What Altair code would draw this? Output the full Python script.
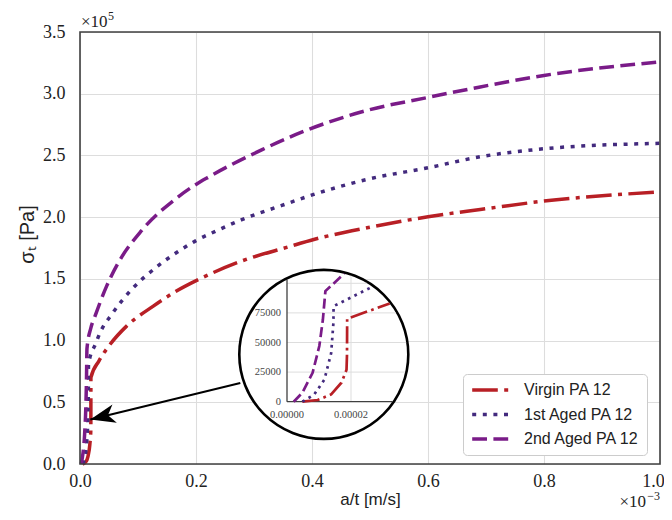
import math
import altair as alt
import pandas as pd

# ---------------- data (a/t in m/s, sigma_t in Pa) ----------------
series_names = ["Virgin PA 12", "1st Aged PA 12", "2nd Aged PA 12"]
series_colors = ["#B81F25", "#432A7E", "#7A1B88"]

virgin_x = [0.48e-5, 0.96e-5, 1.38e-5, 1.70e-5, 1.86e-5, 1.875e-5, 1.88e-5, 3.28e-5, 5.17e-5,
            8.03e-5, 1.264e-4, 1.64e-4, 2.045e-4, 2.79e-4, 3.6e-4, 4.03e-4, 4.95e-4, 6.0e-4,
            6.9e-4, 8.0e-4, 1.0e-3]
virgin_y = [0, 1400, 6200, 16000, 27000, 40000, 70100, 83600, 96800,
            111700, 127900, 139500, 149500, 164500, 176000, 181900, 191400, 200300,
            206200, 213000, 220500]

aged1_x = [0.48e-5, 0.85e-5, 1.17e-5, 1.38e-5, 1.45e-5, 1.456e-5, 2.706e-5, 3.45e-5, 5.45e-5,
           8.9e-5, 1.29e-4, 1.64e-4, 2.0e-4, 2.333e-4, 2.79e-4, 3.48e-4, 3.94e-4, 4.95e-4,
           6.0e-4, 6.9e-4, 8.0e-4, 1.0e-3]
aged1_y = [0, 6000, 18800, 41000, 66500, 80700, 97600, 106300, 121100,
           141400, 158500, 170500, 181000, 188500, 198000, 209500, 217000, 230600,
           240000, 248900, 255400, 259800]

aged2_x = [0.21e-5, 0.48e-5, 0.80e-5, 1.01e-5, 1.12e-5, 1.20e-5, 1.875e-5, 2.59e-5, 4.59e-5,
           6.6e-5, 1.06e-4, 1.64e-4, 2.0e-4, 2.217e-4, 3.15e-4, 3.8e-4, 4.95e-4, 6.0e-4,
           6.9e-4, 8.0e-4, 1.0e-3]
aged2_y = [0, 7600, 24400, 47000, 69000, 93400, 110300, 119800, 144100,
           163000, 189000, 214500, 226500, 232500, 254900, 268400, 286500, 297000,
           305500, 314800, 325800]

x_ticks = [0, 0.0002, 0.0004, 0.0006, 0.0008, 0.001]
y_ticks = [0, 50000, 100000, 150000, 200000, 250000, 300000, 350000]

inset_y_ticks = [0, 25000, 50000, 75000]
inset_y_labels = ["0", "25000", "50000", "75000"]
inset_y_grid = [25000, 50000, 75000, 100000]
inset_x_ticks = [0, 2e-5]
inset_x_labels = ["0.00000", "0.00002"]
inset_x_grid = [2e-5]

# arrow (main data units)
arrow_from = (2.764e-4, 65600)
arrow_to = (1.78e-5, 36000)

# ---------------- layout ----------------
W, H = 580, 432
MAIN_X = [0, 0.001]
MAIN_Y = [0, 350000]
# inset scales: data domain -> pixel range inside the plot area
INS_XD, INS_XR = [0, 5e-5], [207, 367]
INS_YD, INS_YR = [0, 100000], [369.7, 251.3]
CX, CY, R = 243.8, 322.4, 84.5  # magnifier circle (pixels)
RC = R - 1.3


def ipx(x):
    return INS_XR[0] + (x - INS_XD[0]) / (INS_XD[1] - INS_XD[0]) * (INS_XR[1] - INS_XR[0])


def ipy(y):
    return INS_YR[0] + (y - INS_YD[0]) / (INS_YD[1] - INS_YD[0]) * (INS_YR[1] - INS_YR[0])


def ix(px):
    return INS_XD[0] + (px - INS_XR[0]) / (INS_XR[1] - INS_XR[0]) * (INS_XD[1] - INS_XD[0])


def iy(py):
    return INS_YD[0] + (py - INS_YR[0]) / (INS_YR[1] - INS_YR[0]) * (INS_YD[1] - INS_YD[0])


def clip_polyline(xs, ys):
    pts = [(ipx(x), ipy(y)) for x, y in zip(xs, ys)]
    inside = lambda p: (p[0] - CX) ** 2 + (p[1] - CY) ** 2 <= RC * RC
    pieces, cur = [], []
    for i, p in enumerate(pts):
        if i == 0:
            if inside(p):
                cur = [p]
            continue
        q = pts[i - 1]
        dx, dy = p[0] - q[0], p[1] - q[1]
        fx, fy = q[0] - CX, q[1] - CY
        A = dx * dx + dy * dy
        B = 2 * (fx * dx + fy * dy)
        C = fx * fx + fy * fy - RC * RC
        disc = B * B - 4 * A * C
        ts = []
        if A > 0 and disc >= 0:
            s = math.sqrt(disc)
            ts = sorted(t for t in ((-B - s) / (2 * A), (-B + s) / (2 * A)) if 0 < t < 1)
        a_in, b_in = inside(q), inside(p)
        if a_in and b_in:
            cur.append(p)
        elif a_in:
            t = ts[-1] if ts else 1
            cur.append((q[0] + t * dx, q[1] + t * dy))
            pieces.append(cur)
            cur = []
        elif b_in:
            t = ts[0] if ts else 0
            cur = [(q[0] + t * dx, q[1] + t * dy), p]
        elif len(ts) == 2:
            pieces.append([(q[0] + ts[0] * dx, q[1] + ts[0] * dy), (q[0] + ts[1] * dx, q[1] + ts[1] * dy)])
    if len(cur) > 1:
        pieces.append(cur)
    return pieces


all_series = [(virgin_x, virgin_y), (aged1_x, aged1_y), (aged2_x, aged2_y)]

rows = []
for name, (xs, ys) in zip(series_names, all_series):
    for i, (x, y) in enumerate(zip(xs, ys)):
        rows.append({"x": x, "y": y, "series": name, "i": i})
main_df = pd.DataFrame(rows)

irows = []
for name, (xs, ys) in zip(series_names, all_series):
    for k, piece in enumerate(clip_polyline(xs, ys)):
        for j, (px, py) in enumerate(piece):
            irows.append({"x": ix(px), "y": iy(py), "series": name, "piece": f"{name}-{k}", "i": j})
inset_df = pd.DataFrame(irows)

# inset grid / spines clipped to the circle
grid_rows = []
for gv in inset_y_grid:
    py = ipy(gv)
    if abs(py - CY) < RC:
        right = CX + math.sqrt(RC ** 2 - (py - CY) ** 2)
        grid_rows.append({"x": 0, "y": gv, "x2": ix(right), "y2": gv})
for gv in inset_x_grid:
    px = ipx(gv)
    top = CY - math.sqrt(RC ** 2 - (px - CX) ** 2)
    grid_rows.append({"x": gv, "y": 0, "x2": gv, "y2": iy(top)})
grid_df = pd.DataFrame(grid_rows)

px0, py0 = ipx(0), ipy(0)
spine_df = pd.DataFrame([
    {"x": 0, "y": 0, "x2": 0, "y2": iy(CY - math.sqrt(RC ** 2 - (px0 - CX) ** 2))},
    {"x": 0, "y": 0, "x2": ix(CX + math.sqrt(RC ** 2 - (py0 - CY) ** 2)), "y2": 0},
])

dashes_main = [[25.6, 6.4, 4, 6.4], [4, 6.6], [14.8, 6.4]]
dashes_inset = [[17.3, 4.3, 2.7, 4.3], [2.7, 4.5], [10, 4.3]]

SERIF = "Liberation Serif"
SANS = "Liberation Sans"

mx = alt.Scale(domain=MAIN_X, nice=False, zero=False)
my = alt.Scale(domain=MAIN_Y, nice=False, zero=False)

legend = alt.Legend(
    title=None, orient="none", legendX=383, legendY=342,
    symbolType="stroke", symbolSize=1340, symbolStrokeWidth=3.5, clipHeight=18,
    labelFont=SANS, labelFontSize=16, labelColor="#222222", labelOffset=13,
    padding=7, rowPadding=6.5, fillColor="white", strokeColor="#cccccc", cornerRadius=4,
)

lines = alt.Chart(main_df).mark_line(strokeWidth=3.5, interpolate="monotone").encode(
    x=alt.X("x:Q", scale=mx, axis=alt.Axis(
        values=x_ticks, labelExpr="format(datum.value*1000, '.1f')", title="a/t [m/s]",
        labelFlush=False, labelPadding=8, titlePadding=1, titleFontSize=17,
        labelOffset={"condition": {"test": "datum.value >= 0.001", "value": -7}, "value": 0})),
    y=alt.Y("y:Q", scale=my, axis=alt.Axis(
        values=y_ticks, labelExpr="format(datum.value/100000, '.1f')", title="σₜ [Pa]",
        labelFlush=False, labelPadding=15, titlePadding=5, titleFontSize=20, titleY=202)),
    color=alt.Color("series:N", scale=alt.Scale(domain=series_names, range=series_colors),
                    sort=series_names, legend=legend),
    strokeDash=alt.StrokeDash("series:N", scale=alt.Scale(domain=series_names, range=dashes_main),
                              sort=series_names, legend=legend),
    order="i:Q",
)

frame = alt.Chart(pd.DataFrame({"x": [MAIN_X[0]], "x2": [MAIN_X[1]], "y": [MAIN_Y[0]], "y2": [MAIN_Y[1]]})).mark_rect(
    filled=False, stroke="#404040", strokeWidth=1.6
).encode(x=alt.X("x:Q", scale=mx), x2="x2:Q", y=alt.Y("y:Q", scale=my), y2="y2:Q")

arrow_line = alt.Chart(pd.DataFrame({"x": [arrow_from[0]], "y": [arrow_from[1]],
                                     "x2": [arrow_to[0]], "y2": [arrow_to[1]]})).mark_rule(
    color="black", strokeWidth=2).encode(x=alt.X("x:Q", scale=mx), y=alt.Y("y:Q", scale=my), x2="x2:Q", y2="y2:Q")

arrow_head = alt.Chart(pd.DataFrame({"x": [arrow_to[0]], "y": [arrow_to[1]]})).mark_point(
    shape="M0,0 L2,-0.75 L1.45,0 L2,0.75 Z", size=625, angle=346.5, filled=True,
    color="black", opacity=1).encode(x=alt.X("x:Q", scale=mx), y=alt.Y("y:Q", scale=my))

exp_top_base = alt.Chart(pd.DataFrame({"x": [MAIN_X[0]], "y": [MAIN_Y[1]], "t": ["×10"]})).mark_text(
    font=SERIF, fontSize=17, align="left", baseline="middle", dx=1, dy=-10, color="#222222"
).encode(x=alt.X("x:Q", scale=mx), y=alt.Y("y:Q", scale=my), text="t:N")
exp_top_sup = alt.Chart(pd.DataFrame({"x": [MAIN_X[0]], "y": [MAIN_Y[1]], "t": ["5"]})).mark_text(
    font=SERIF, fontSize=12, align="left", baseline="middle", dx=28, dy=-16, color="#222222"
).encode(x=alt.X("x:Q", scale=mx), y=alt.Y("y:Q", scale=my), text="t:N")
exp_bot_base = alt.Chart(pd.DataFrame({"x": [MAIN_X[1]], "y": [MAIN_Y[0]], "t": ["×10"]})).mark_text(
    font=SERIF, fontSize=17, align="right", baseline="middle", dx=-14, dy=38, color="#222222"
).encode(x=alt.X("x:Q", scale=mx), y=alt.Y("y:Q", scale=my), text="t:N")
exp_bot_sup = alt.Chart(pd.DataFrame({"x": [MAIN_X[1]], "y": [MAIN_Y[0]], "t": ["−3"]})).mark_text(
    font=SERIF, fontSize=12, align="right", baseline="middle", dx=0, dy=32, color="#222222"
).encode(x=alt.X("x:Q", scale=mx), y=alt.Y("y:Q", scale=my), text="t:N")

main = alt.layer(lines, frame, arrow_line, arrow_head, exp_top_base, exp_top_sup, exp_bot_base, exp_bot_sup)

# ---------------- inset ----------------
ixs = alt.Scale(domain=INS_XD, range=INS_XR, nice=False, zero=False)
iys = alt.Scale(domain=INS_YD, range=INS_YR, nice=False, zero=False)
IX = lambda f="x:Q": alt.X(f, scale=ixs, axis=None)
IY = lambda f="y:Q": alt.Y(f, scale=iys, axis=None)

circle = alt.Chart(pd.DataFrame({"x": [ix(CX)], "y": [iy(CY)]})).mark_point(
    shape="circle", size=(2 * R) ** 2, filled=True, fill="white", stroke="black",
    strokeWidth=2.6, opacity=1).encode(x=IX(), y=IY())

igrid = alt.Chart(grid_df).mark_rule(color="#dddddd", strokeWidth=1).encode(
    x=IX(), y=IY(), x2="x2:Q", y2="y2:Q")
ispine = alt.Chart(spine_df).mark_rule(color="#404040", strokeWidth=1.3).encode(
    x=IX(), y=IY(), x2="x2:Q", y2="y2:Q")

ilines = alt.Chart(inset_df).mark_line(strokeWidth=2.7).encode(
    x=IX(), y=IY(),
    color=alt.Color("series:N", scale=alt.Scale(domain=series_names, range=series_colors), legend=None),
    strokeDash=alt.StrokeDash("series:N", scale=alt.Scale(domain=series_names, range=dashes_inset), legend=None),
    detail="piece:N", order="i:Q",
)

iylab = alt.Chart(pd.DataFrame({"x": [0] * len(inset_y_ticks), "y": inset_y_ticks, "t": inset_y_labels})).mark_text(
    font=SERIF, fontSize=10.5, align="right", baseline="middle", dx=-6, color="#444444"
).encode(x=IX(), y=IY(), text="t:N")
ixlab = alt.Chart(pd.DataFrame({"x": inset_x_ticks, "y": [0] * len(inset_x_ticks), "t": inset_x_labels})).mark_text(
    font=SERIF, fontSize=10.5, align="center", baseline="middle", dy=13, color="#444444"
).encode(x=IX(), y=IY(), text="t:N")

inset = alt.layer(circle, igrid, ispine, ilines, iylab, ixlab)

chart = alt.layer(main, inset).resolve_scale(
    x="independent", y="independent", color="independent", strokeDash="independent"
).properties(
    width=W, height=H,
    padding={"left": 72, "top": 24, "right": 4, "bottom": 48},
    autosize=alt.AutoSizeParams(type="none"),
    background="white",
).configure_view(stroke=None).configure_axis(
    grid=True, gridColor="#dddddd", gridWidth=1.1, domain=False, ticks=False,
    labelFont=SERIF, labelFontSize=18, labelColor="#222222",
    titleFont=SANS, titleFontSize=18, titleFontWeight="normal", titleColor="#222222",
)

chart.save("out.html", embed_options={"renderer": "svg", "actions": False})
